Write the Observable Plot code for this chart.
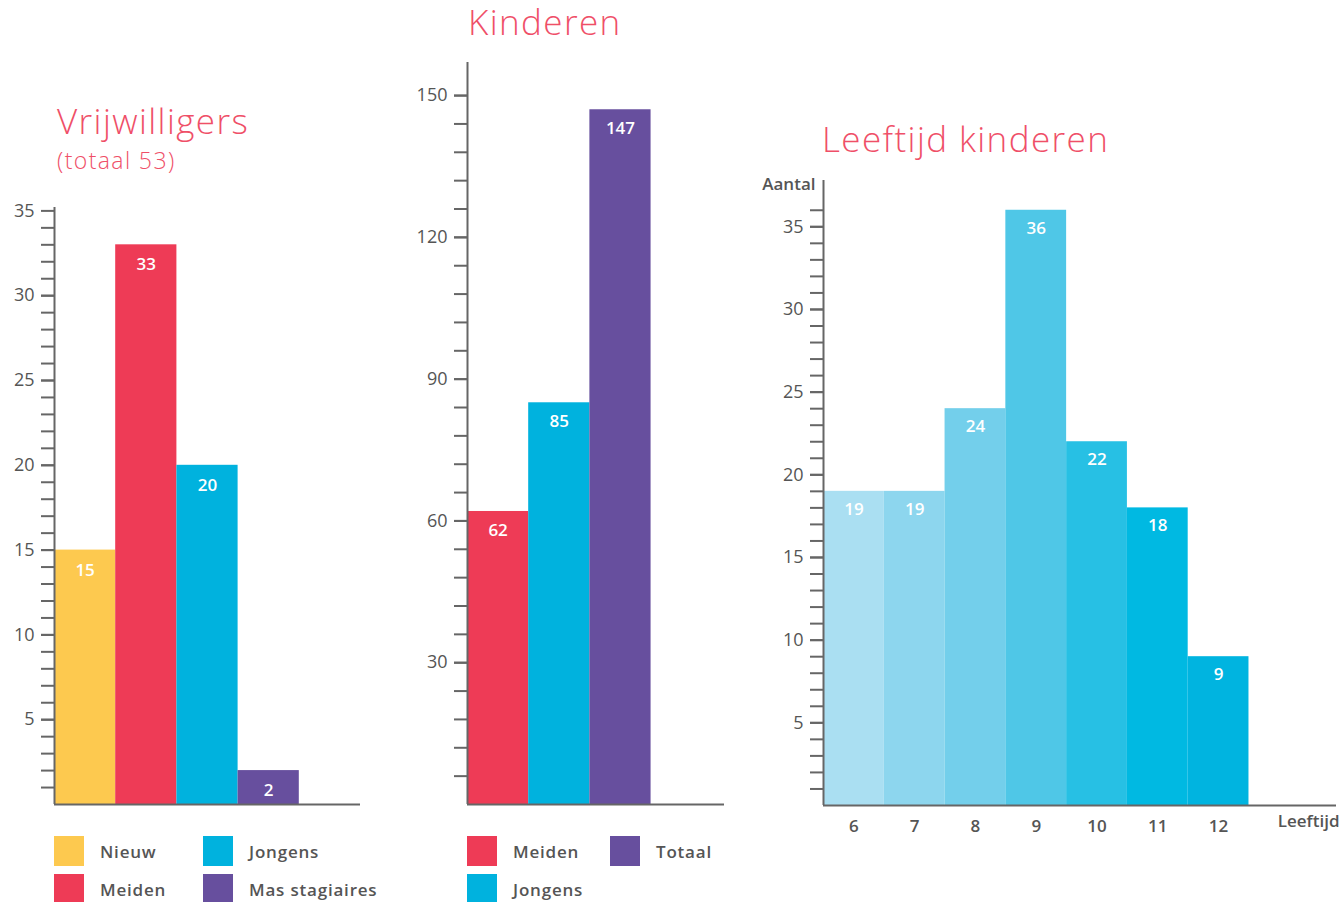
<!DOCTYPE html>
<html>
<head>
<meta charset="utf-8">
<script src="https://cdn.jsdelivr.net/npm/d3@7"></script>
<script src="https://cdn.jsdelivr.net/npm/@observablehq/plot@0.6"></script>
<style>
  html, body { margin: 0; padding: 0; background: #fff; }
  body { width: 1342px; height: 902px; position: relative; overflow: hidden; font-family: "Open Sans", sans-serif; }
  .chart { position: absolute; top: 0; }
  .title { position: absolute; color: #ef4f68; font-weight: 300; white-space: nowrap; line-height: 1; letter-spacing: 1.4px; }
  .legend { position: absolute; font-size: 17px; color: #555; font-weight: 600; letter-spacing: 0.8px; }
  .item { position: absolute; height: 30px; display: flex; align-items: center; white-space: nowrap; }
  .sw { width: 30px; height: 30px; margin-right: 16px; flex: none; }
</style>
</head>
<body>
<div id="c1" class="chart" style="left:0px"></div>
<div id="c2" class="chart" style="left:400px"></div>
<div id="c3" class="chart" style="left:740px"></div>
<div class="title" style="left:57px; top:103px; font-size:35px;">Vrijwilligers</div>
<div class="title" style="left:57px; top:149px; font-size:23px; letter-spacing:1.4px;">(totaal 53)</div>
<div class="title" style="left:468px; top:4px; font-size:35px;">Kinderen</div>
<div class="title" style="left:822px; top:121px; font-size:35px;">Leeftijd kinderen</div>
<div id="lg1" class="legend" style="left:54px; top:836px;"></div>
<div id="lg2" class="legend" style="left:467px; top:836px;"></div>
<script>
// ---- data ----
const volCategories = ["Nieuw", "Meiden", "Jongens", "Mas stagiaires"];
const volValues = [15, 33, 20, 2];
const volMajorTicks = [5, 10, 15, 20, 25, 30, 35];

const kidCategories = ["Meiden", "Jongens", "Totaal"];
const kidValues = [62, 85, 147];
const kidMajorTicks = [30, 60, 90, 120, 150];

const ages = [6, 7, 8, 9, 10, 11, 12];
const ageCounts = [19, 19, 24, 36, 22, 18, 9];
const ageMajorTicks = [5, 10, 15, 20, 25, 30, 35];

// ---- palette ----
const palette = {Nieuw: "#fdc94f", Meiden: "#ee3b56", Jongens: "#00b2de", "Mas stagiaires": "#674f9e", Totaal: "#674f9e"};
const agePalette = ["#aadff2", "#8dd6ee", "#73cfeb", "#4fc7e7", "#27c0e4", "#00b9e2", "#00b4e0"];

const FONT = "Open Sans, sans-serif";
const AXIS = "#666";
const TXT = "#555";

function axisMarks(major, minor) {
  return [
    Plot.axisY({ticks: minor, tickSize: 13, tickFormat: () => "", label: null, stroke: AXIS, strokeWidth: 2, strokeOpacity: 1}),
    Plot.axisY({ticks: major, tickSize: 13, tickPadding: 7, label: null, fontSize: 18, fill: TXT, stroke: AXIS, strokeWidth: 2, strokeOpacity: 1, fontWeight: 500}),
    Plot.ruleX([0], {stroke: AXIS, strokeWidth: 2}),
    Plot.ruleY([0], {stroke: AXIS, strokeWidth: 2})
  ];
}

function barData(cats, vals) {
  return cats.map((c, i) => ({cat: c, value: vals[i], i}));
}

// ---- chart 1: Vrijwilligers ----
const vol = barData(volCategories, volValues);
const c1 = Plot.plot({
  width: 380, height: 850,
  marginLeft: 54, marginRight: 20, marginTop: 207, marginBottom: 46,
  style: {fontFamily: FONT, background: "transparent"},
  x: {domain: [0, 5], axis: null},
  y: {domain: [0, 35.2], axis: null},
  color: {domain: Object.keys(palette), range: Object.values(palette)},
  marks: [
    Plot.rectY(vol, {x1: "i", x2: d => d.i + 1, y: "value", fill: "cat"}),
    ...axisMarks(volMajorTicks, d3.range(1, 35)),
    Plot.text(vol, {x: d => d.i + 0.5, y: "value", text: d => String(d.value), dy: 20, fill: "white", fontSize: 17, fontWeight: 600})
  ]
});
document.getElementById("c1").append(c1);

// ---- chart 2: Kinderen ----
const kid = barData(kidCategories, kidValues);
const c2 = Plot.plot({
  width: 340, height: 850,
  marginLeft: 67, marginRight: 16, marginTop: 62, marginBottom: 46,
  style: {fontFamily: FONT, background: "transparent"},
  x: {domain: [0, 4.2], axis: null},
  y: {domain: [0, 157], axis: null},
  color: {domain: Object.keys(palette), range: Object.values(palette)},
  marks: [
    Plot.rectY(kid, {x1: "i", x2: d => d.i + 1, y: "value", fill: "cat"}),
    ...axisMarks(kidMajorTicks, d3.range(6, 151, 6)),
    Plot.text(kid, {x: d => d.i + 0.5, y: "value", text: d => String(d.value), dy: 19, fill: "white", fontSize: 17, fontWeight: 600})
  ]
});
document.getElementById("c2").append(c2);

// ---- chart 3: Leeftijd kinderen ----
const age = ages.map((a, i) => ({age: a, value: ageCounts[i], i}));
const c3 = Plot.plot({
  width: 602, height: 850,
  marginLeft: 83, marginRight: 6, marginTop: 180, marginBottom: 45,
  style: {fontFamily: FONT, background: "transparent"},
  x: {domain: [0, 8.44], axis: null},
  y: {domain: [0, 37.8], axis: null},
  color: {type: "ordinal", domain: ages, range: agePalette},
  marks: [
    Plot.rectY(age, {x1: "i", x2: d => d.i + 1, y: "value", fill: "age"}),
    ...axisMarks(ageMajorTicks, d3.range(1, 37)),
    Plot.text(age, {x: d => d.i + 0.5, y: "value", text: d => String(d.value), dy: 18, fill: "white", fontSize: 17, fontWeight: 600}),
    Plot.text(age, {x: d => d.i + 0.5, y: 0, text: d => String(d.age), dy: 21, fill: TXT, fontSize: 17, fontWeight: 600}),
    Plot.text(["Leeftijd"], {frameAnchor: "bottom-right", dy: 21, dx: 3, textAnchor: "end", fill: TXT, fontSize: 17, fontWeight: 600, letterSpacing: 0.6}),
    Plot.text(["Aantal"], {frameAnchor: "top-left", dy: -3, dx: -8, textAnchor: "end", fill: TXT, fontSize: 17, fontWeight: 600, letterSpacing: 0.6})
  ]
});
document.getElementById("c3").append(c3);

// ---- legends ----
function legend(el, items, colX, rowY) {
  items.forEach((name, k) => {
    const col = Math.floor(k / 2), row = k % 2;
    const d = document.createElement("div");
    d.className = "item";
    d.style.left = colX[col] + "px";
    d.style.top = rowY[row] + "px";
    d.innerHTML = `<div class="sw" style="background:${palette[name]}"></div><span>${name}</span>`;
    el.append(d);
  });
}
legend(document.getElementById("lg1"), ["Nieuw", "Meiden", "Jongens", "Mas stagiaires"], [0, 149], [0, 38]);
legend(document.getElementById("lg2"), ["Meiden", "Jongens", "Totaal"], [0, 143], [0, 38]);
</script>
</body>
</html>
